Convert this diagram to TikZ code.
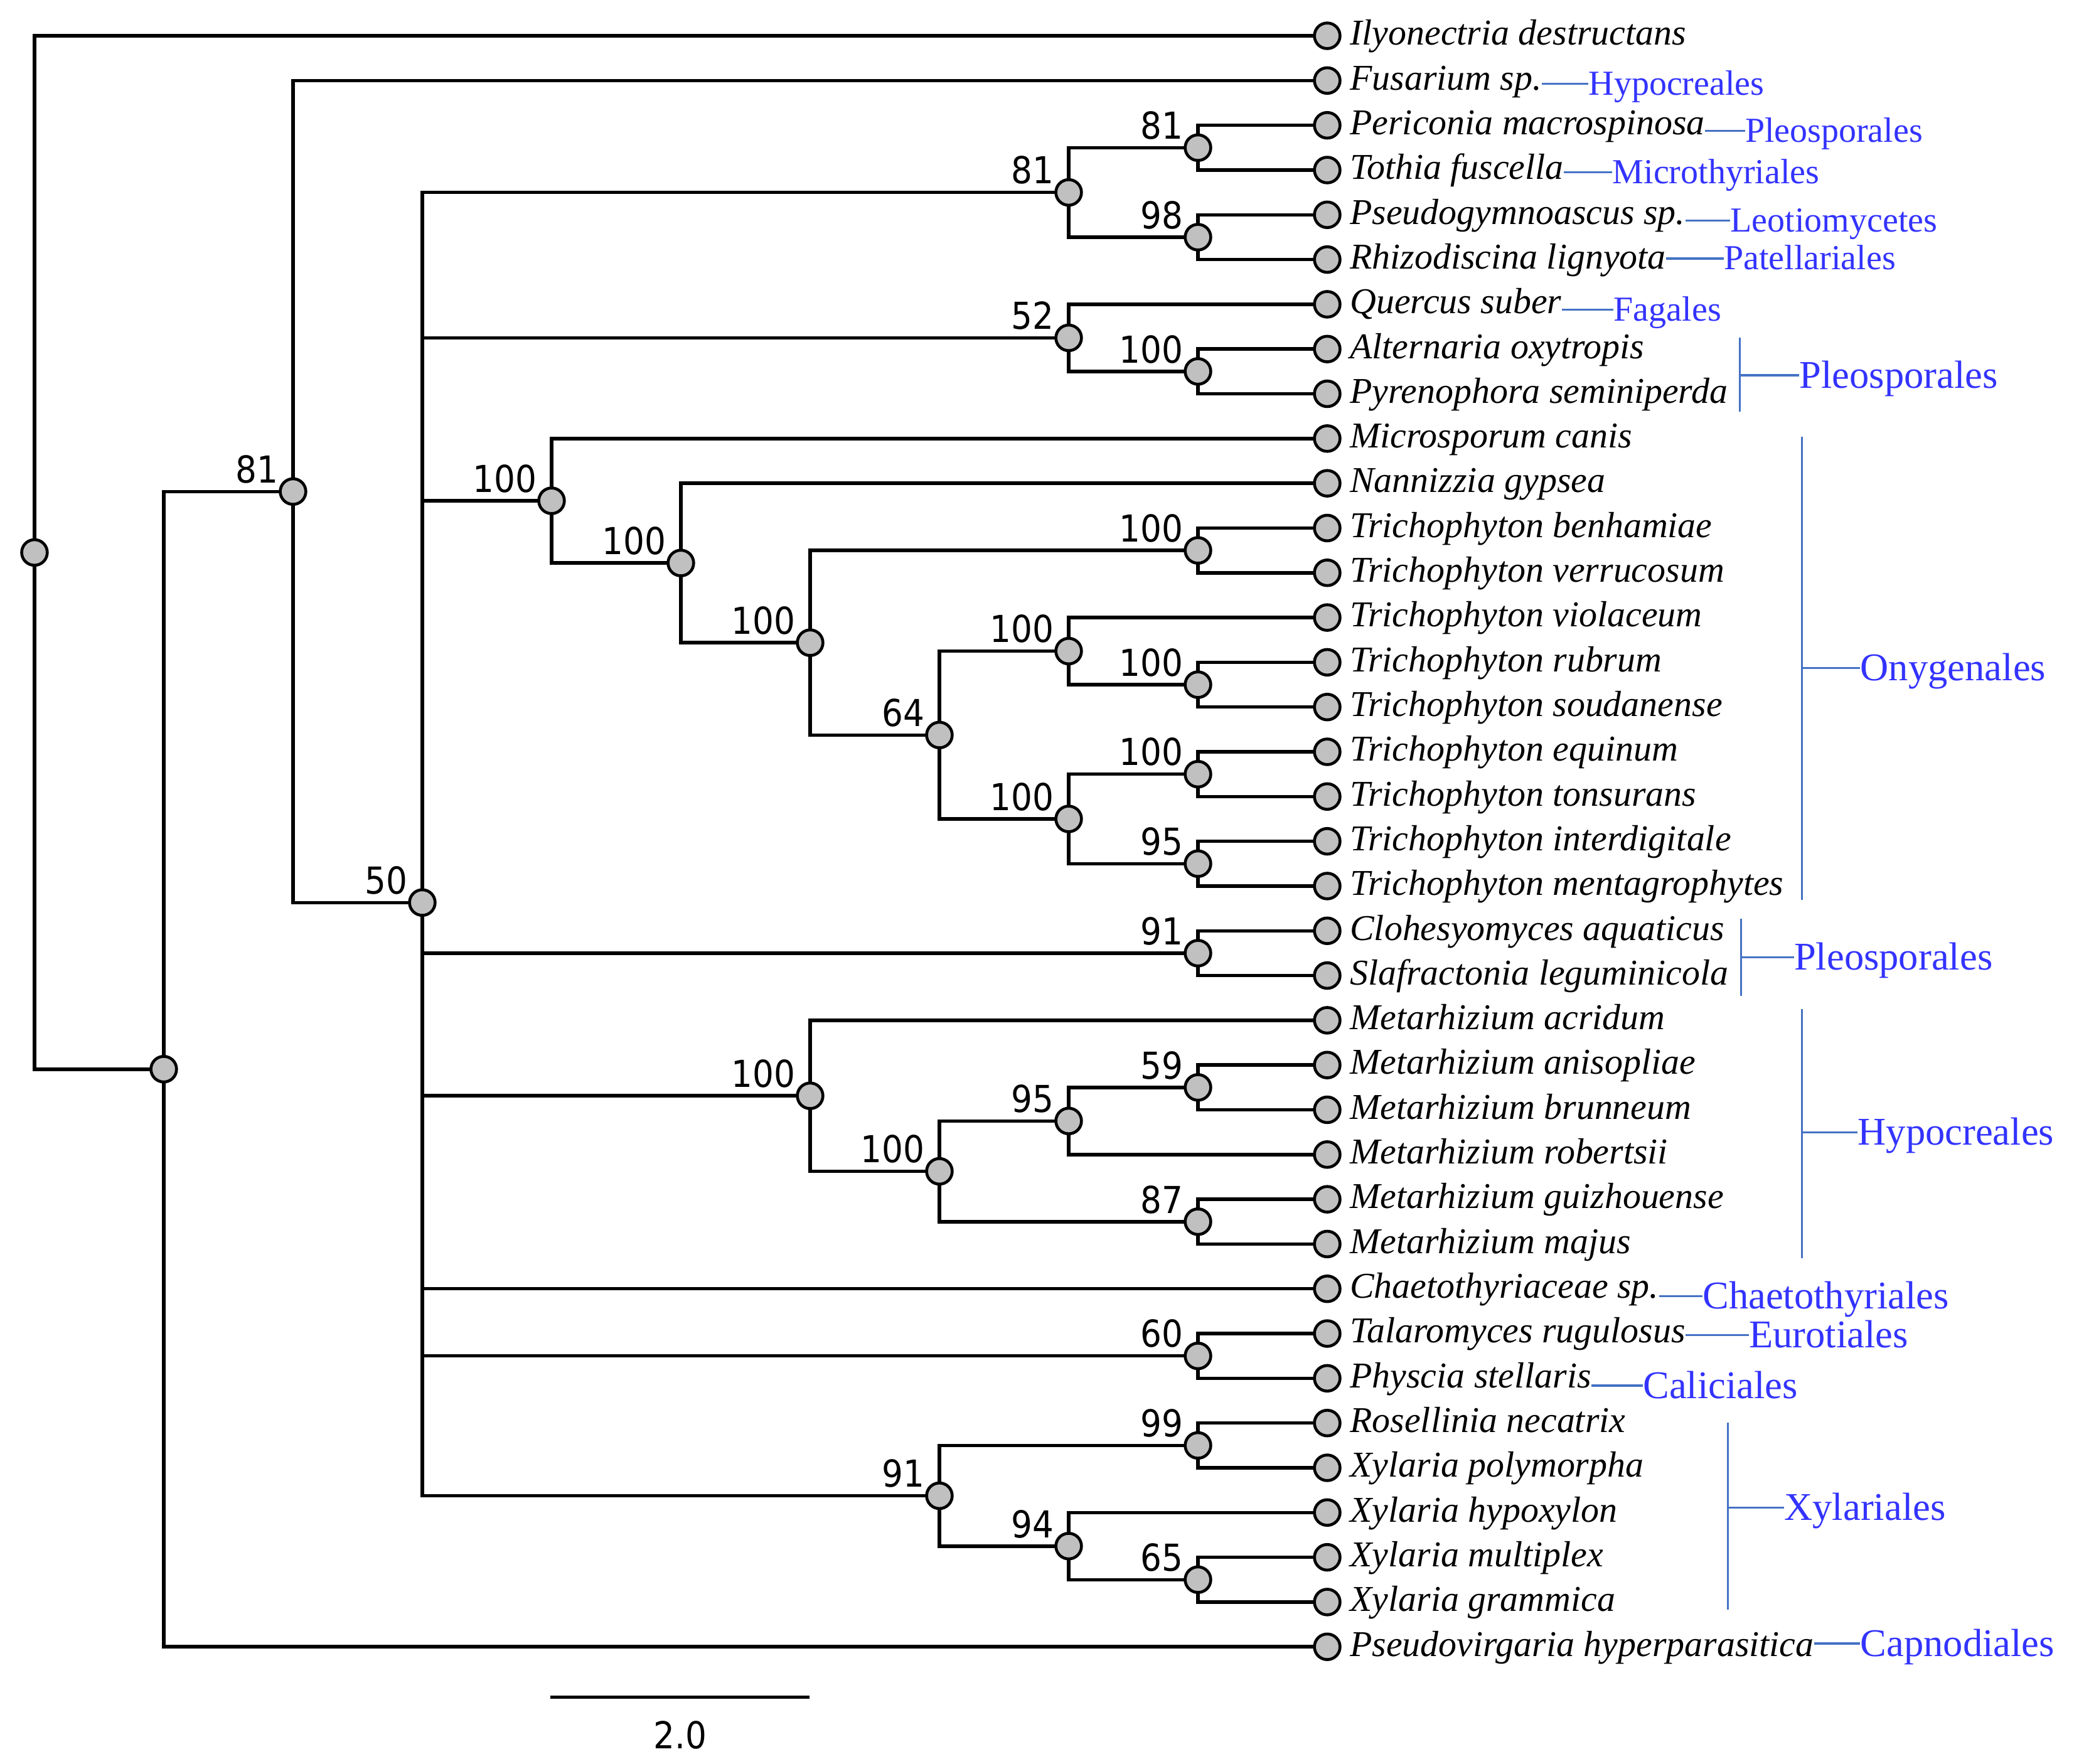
\documentclass[tikz,border=0pt]{standalone}
\usepackage{fontspec}
\setmainfont{Liberation Serif}
\newfontfamily\numfont[FakeStretch=0.9]{DejaVu Sans}
\usetikzlibrary{backgrounds}
\definecolor{nodegray}{RGB}{192,192,192}
\definecolor{cladetext}{RGB}{51,51,255}
\definecolor{cladeline}{RGB}{68,114,196}
\begin{document}
\begin{tikzpicture}[x=1pt,y=-1pt,
  tnode/.style={circle,draw=black,fill=nodegray,line width=2.2pt,minimum size=19.3pt,inner sep=0pt},
  branch/.style={line width=2.6pt,black},
  boot/.style={font=\numfont\fontsize{28}{30}\selectfont,anchor=base east,inner sep=0pt},
  taxon/.style={font=\fontsize{27.4}{30}\selectfont\itshape,anchor=base west,inner sep=0pt},
  clade/.style={font=\fontsize{26.5}{30}\selectfont,text=cladetext,anchor=base west,inner sep=0pt},
  cladebig/.style={font=\fontsize{29.6}{32}\selectfont,text=cladetext,anchor=base west,inner sep=0pt},
  cline/.style={cladeline,line width=1.5pt},
]
\useasboundingbox (0,0) rectangle (1568,1330);
% leaves
\foreach \i/\t in {1/Ilyonectria destructans,2/Fusarium sp.,3/Periconia macrospinosa,4/Tothia fuscella,
  5/Pseudogymnoascus sp.,6/Rhizodiscina lignyota,7/Quercus suber,8/Alternaria oxytropis,
  9/Pyrenophora seminiperda,10/Microsporum canis,11/Nannizzia gypsea,12/Trichophyton benhamiae,
  13/Trichophyton verrucosum,14/Trichophyton violaceum,15/Trichophyton rubrum,16/Trichophyton soudanense,
  17/Trichophyton equinum,18/Trichophyton tonsurans,19/Trichophyton interdigitale,20/Trichophyton mentagrophytes,
  21/Clohesyomyces aquaticus,22/Slafractonia leguminicola,23/Metarhizium acridum,24/Metarhizium anisopliae,
  25/Metarhizium brunneum,26/Metarhizium robertsii,27/Metarhizium guizhouense,28/Metarhizium majus,
  29/Chaetothyriaceae sp.,30/Talaromyces rugulosus,31/Physcia stellaris,32/Rosellinia necatrix,
  33/Xylaria polymorpha,34/Xylaria hypoxylon,35/Xylaria multiplex,36/Xylaria grammica,
  37/Pseudovirgaria hyperparasitica}{
  \node[tnode] (l\i) at (1001,{27+33.75*(\i-1)}) {};
  \node[taxon] (t\i) at (1018,{34+33.75*(\i-1)}) {\t};
}
% internal nodes
\node[tnode] (nR) at (26,416.68) {};
\node[tnode] (nA) at (123.5,806.36) {};
\node[tnode] (nB) at (221,370.73) {};
\node[tnode] (nC) at (318.5,680.71) {};
\node[tnode] (nD) at (806,145.125) {};
\node[tnode] (nE) at (903.5,111.375) {};
\node[tnode] (nF) at (903.5,178.875) {};
\node[tnode] (nG) at (806,254.81) {};
\node[tnode] (nH) at (903.5,280.125) {};
\node[tnode] (nI) at (416,377.68) {};
\node[tnode] (nJ) at (513.5,424.62) {};
\node[tnode] (nK) at (611,484.73) {};
\node[tnode] (nL) at (903.5,415.125) {};
\node[tnode] (nM) at (708.5,554.34) {};
\node[tnode] (nN) at (806,491.06) {};
\node[tnode] (nO) at (903.5,516.375) {};
\node[tnode] (nP) at (806,617.625) {};
\node[tnode] (nQ) at (903.5,583.875) {};
\node[tnode] (nS) at (903.5,718.875) {};
\node[tnode] (nRR) at (903.5,651.375) {};
\node[tnode] (nT) at (611,826.45) {};
\node[tnode] (nU) at (708.5,883.41) {};
\node[tnode] (nV) at (806,845.44) {};
\node[tnode] (nX) at (903.5,820.125) {};
\node[tnode] (nW) at (903.5,921.375) {};
\node[tnode] (nY) at (903.5,1022.625) {};
\node[tnode] (nZ) at (708.5,1128.09) {};
\node[tnode] (nAA) at (903.5,1090.125) {};
\node[tnode] (nAB) at (806,1166.06) {};
\node[tnode] (nAC) at (903.5,1191.375) {};
% branches
\begin{pgfonlayer}{background}
\fill[white] (0,0) rectangle (1568,1330);
\foreach \p/\c in {nR/l1,nR/nA,nA/nB,nA/l37,nB/l2,nB/nC,
  nC/nD,nC/nG,nC/nI,nC/nS,nC/nT,nC/l29,nC/nY,nC/nZ,
  nD/nE,nD/nF,nE/l3,nE/l4,nF/l5,nF/l6,nG/l7,nG/nH,nH/l8,nH/l9,
  nI/l10,nI/nJ,nJ/l11,nJ/nK,nK/nL,nK/nM,nL/l12,nL/l13,nM/nN,nM/nP,
  nN/l14,nN/nO,nO/l15,nO/l16,nP/nQ,nP/nRR,nQ/l17,nQ/l18,nRR/l19,nRR/l20,
  nS/l21,nS/l22,nT/l23,nT/nU,nU/nV,nU/nW,nV/nX,nV/l26,nX/l24,nX/l25,
  nW/l27,nW/l28,nY/l30,nY/l31,nZ/nAA,nZ/nAB,nAA/l32,nAA/l33,
  nAB/l34,nAB/nAC,nAC/l35,nAC/l36}{
  \draw[branch] (\p.center) |- (\c.center);
}
\end{pgfonlayer}
% bootstrap values
\foreach \n/\v in {nB/81,nC/50,nD/81,nE/81,nF/98,nG/52,nH/100,nI/100,nJ/100,nK/100,
  nL/100,nM/64,nN/100,nO/100,nP/100,nQ/100,nRR/95,nS/91,nT/100,nU/100,nV/95,
  nX/59,nW/87,nY/60,nZ/91,nAA/99,nAB/94,nAC/65}{
  \node[boot] (b\n) at ([xshift=-11pt,yshift=6.5pt]\n.center) {\v};
}
% single clade labels
\foreach \i/\x/\y/\t/\st/\sh in {2/1198/63/Hypocreales/clade/8.5,3/1316/98.5/Pleosporales/clade/8.5,
  4/1216/130/Microthyriales/clade/8.5,5/1305/166.5/Leotiomycetes/clade/8.5,
  6/1300/195/Patellariales/clade/8.5,7/1217/233.5/Fagales/clade/8.5,
  29/1284/977.7/Chaetothyriales/cladebig/9.5,30/1319/1007/Eurotiales/cladebig/9.5,
  31/1239/1045/Caliciales/cladebig/9.5,37/1403/1239.5/Capnodiales/cladebig/9.5}{
  \coordinate (k\i) at (\x,\y);
  \node[\st] (kl\i) at ([yshift=-\sh pt]k\i) {\t};
  \draw[cline] (t\i.east |- k\i) -- (k\i);
}
% bracket clade labels
\foreach \nm/\x/\ya/\yb/\ym/\xl/\t in {pa/1312/254.6/310.6/283/1357/Pleosporales,
  on/1359/329.5/678.7/504/1403/Onygenales,
  pb/1313/693/751/722/1353/Pleosporales,
  hy/1359/761/949/854/1401/Hypocreales,
  xy/1303/1073/1214/1137/1345.6/Xylariales}{
  \coordinate (\nm1) at (\x,\ya);
  \coordinate (\nm2) at (\x,\yb);
  \coordinate (\nm m) at (\x,\ym);
  \coordinate (\nm l) at (\xl,\ym);
  \draw[cline] (\nm1) -- (\nm2);
  \draw[cline] (\nm m) -- (\nm l);
  \node[cladebig] (\nm t) at ([yshift=-9.5pt]\nm l) {\t};
}
% scale bar
\coordinate (sb1) at (415,1280);
\coordinate (sb2) at (610.5,1280);
\draw[line width=2.2pt] (sb1) -- (sb2);
\node[boot,anchor=base] (sbl) at (513,1319) {2.0};
\end{tikzpicture}
\end{document}
